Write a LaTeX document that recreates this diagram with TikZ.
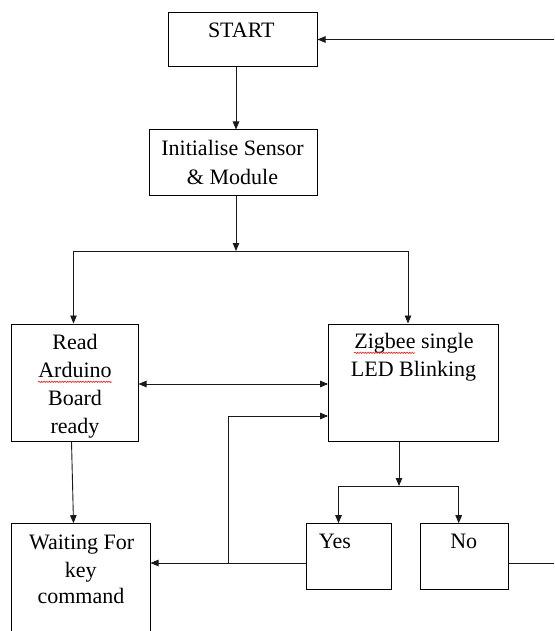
\documentclass[tikz,border=0pt]{standalone}
\usepackage{fontspec}
\setmainfont{Liberation Serif}
\usetikzlibrary{arrows.meta,decorations.pathmorphing}
\begin{document}
\begin{tikzpicture}[x=1pt,y=-1pt,
  box/.style={draw=black, line width=1pt, inner sep=0pt, rectangle},
  txt/.style={anchor=base, inner sep=0pt, font=\fontsize{22}{27}\selectfont, text=black},
  conn/.style={draw=black!90, line width=0.9pt},
  arr/.style={conn, -{Triangle[length=8pt,width=6.5pt]}},
  darr/.style={conn, {Triangle[length=8pt,width=6.5pt]}-{Triangle[length=8pt,width=6.5pt]}},
  squig/.style={draw=red, line width=0.5pt, decorate, decoration={snake, amplitude=0.7pt, segment length=2.6pt}}
]
\useasboundingbox (0,0) rectangle (554,631);
\clip (0,0) rectangle (554,631);
% boxes
\node[box, minimum width=148.5pt, minimum height=53.6pt] (start) at (242.75,39.5) {};
\node[box, minimum width=168pt, minimum height=65.7pt] (init) at (233,162.85) {};
\node[box, minimum width=127pt, minimum height=117pt] (read) at (74.5,382.5) {};
\node[box, minimum width=170pt, minimum height=117pt] (zig) at (413.6,382.5) {};
\node[box, minimum width=85.2pt, minimum height=65.3pt] (yes) at (349.3,556.35) {};
\node[box, minimum width=87.7pt, minimum height=65.3pt] (no) at (464.65,556.35) {};
\node[box, minimum width=139pt, minimum height=130pt] (wait) at (80.5,588.7) {};
% texts
\node[txt] (tstart) at (241.3,37.3) {START};
\node[txt] (tinit1) at (232.5,156) {Initialise Sensor};
\node[txt] (tinit2) at (232.5,184) {\& Module};
\node[txt] (tread1) at (75,349) {Read};
\node[txt] (tread2) at (75,377.3) {Arduino};
\node[txt] (tread3) at (75,405.3) {Board};
\node[txt] (tread4) at (75,433) {ready};
\node[txt] (tzig1) at (414,348.8) {Zigbee single};
\node[txt] (tzig2) at (413.5,376.3) {LED Blinking};
\node[txt] (tyes) at (335,548.3) {Yes};
\node[txt] (tno) at (463.8,548.3) {No};
\node[txt] (twait1) at (81.6,549.3) {Waiting For};
\node[txt] (twait2) at (80.7,577) {key};
\node[txt] (twait3) at (80.9,603.5) {command};
% spell-check squiggles
\draw[squig] ([yshift=-4.5pt]tread2.base west) -- ([yshift=-4.5pt]tread2.base east);
\draw[squig] ([yshift=-4pt]tzig1.base west) -- ++(61,0);
% coordinates
\coordinate (c1) at (236,0);
\coordinate (split) at (236,251);
\coordinate (sl) at (73.5,251);
\coordinate (sr) at (408,251);
\coordinate (h1) at (0,384);
\coordinate (h2) at (0,563);
\coordinate (v1) at (228,416);
\coordinate (j1) at (228,563);
\coordinate (zb) at (399,486);
\coordinate (bl) at (338.5,486);
\coordinate (br) at (458.7,486);
\coordinate (ret) at (562,39.5);
% connectors
\draw[arr] (start.south -| c1) -- (init.north -| c1);
\draw[arr] (init.south -| c1) -- (split);
\draw[conn] (sl) -- (sr);
\draw[arr] (sl) -- (read.north -| sl);
\draw[arr] (sr) -- (zig.north -| sr);
\draw[darr] (read.east |- h1) -- (zig.west |- h1);
\draw[arr] ([xshift=-3pt]read.south) -- ([xshift=-7pt]wait.north);
\draw[arr] (yes.west |- h2) -- (wait.east |- h2);
\draw[arr] (j1) -- (v1) -- (zig.west |- v1);
\draw[arr] (zig.south -| zb) -- (zb);
\draw[conn] (bl) -- (br);
\draw[arr] (bl) -- (yes.north -| bl);
\draw[arr] (br) -- (no.north -| br);
\draw[arr] (no.east |- h2) -- (ret |- h2) -- (ret) -- (start.east);
\end{tikzpicture}
\end{document}
